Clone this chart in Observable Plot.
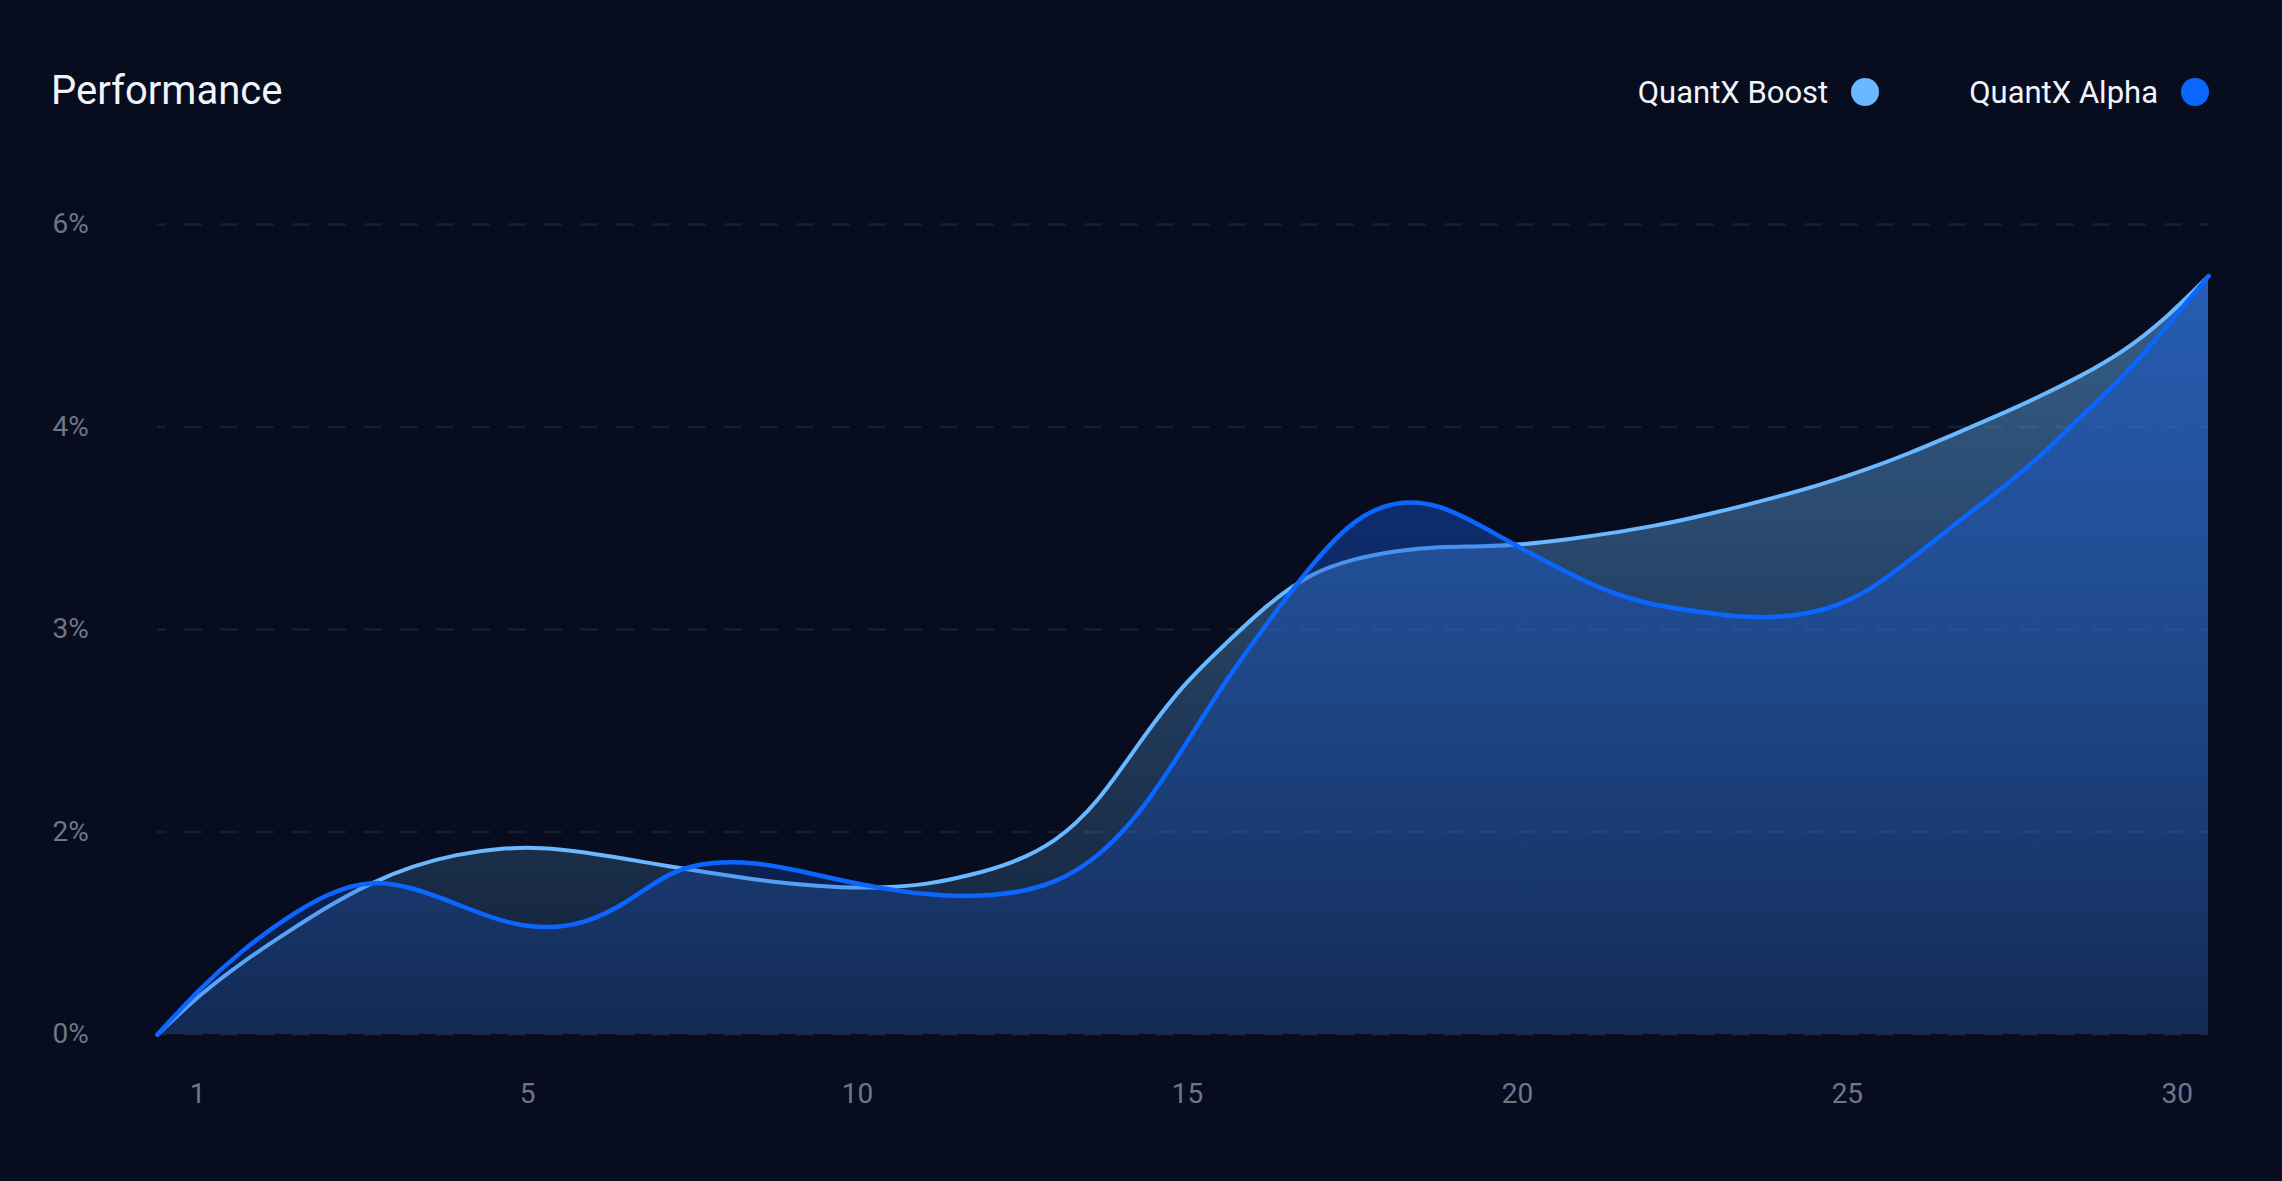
<!DOCTYPE html>
<html>
<head>
<meta charset="utf-8">
<script src="https://cdn.jsdelivr.net/npm/d3@7"></script>
<script src="https://cdn.jsdelivr.net/npm/@observablehq/plot@0.6"></script>
<style>
  html, body { margin: 0; padding: 0; background: #070d1f; }
  body { width: 2282px; height: 1181px; overflow: hidden; font-family: Roboto, sans-serif; }
  #header { position: relative; height: 150px; }
  #title { position: absolute; left: 51px; top: 71px; font-size: 40px; line-height: 40px; color: #f1f4f9; }
  #legend { position: absolute; right: 73px; top: 76px; height: 32px; display: flex; align-items: center; }
  .item { display: flex; align-items: center; font-size: 31px; line-height: 31px; color: #f1f4f9; }
  .item + .item { margin-left: 90px; }
  .dot { width: 28px; height: 28px; border-radius: 50%; margin-left: 23px; }
  #chart svg { display: block; }
</style>
</head>
<body>
<div id="header">
  <div id="title">Performance</div>
  <div id="legend"></div>
</div>
<div id="chart"></div>
<script>
// ---- data (values in %, evenly spaced samples) ----
const seriesNames = ["QuantX Boost", "QuantX Alpha"];
const seriesColors = ["#6ab8ff", "#0a66ff"];
const boost = [0, 0.40, 0.72, 1.00, 1.27, 1.50, 1.67, 1.78, 1.84, 1.85, 1.80, 1.73, 1.66, 1.59, 1.53, 1.48, 1.45,
  1.45, 1.48, 1.57, 1.69, 1.89, 2.14, 2.45, 2.73, 2.93, 3.13, 3.28, 3.35, 3.39, 3.41, 3.41, 3.42,
  3.445, 3.475, 3.51, 3.555, 3.605, 3.66, 3.72, 3.79, 3.87, 3.96, 4.10, 4.29, 4.50, 4.74, 5.07, 5.49];
const alpha = [0, 0.46, 0.84, 1.15, 1.40, 1.53, 1.45, 1.29, 1.12, 1.04, 1.09, 1.30, 1.62, 1.71, 1.70, 1.62, 1.52,
  1.44, 1.38, 1.36, 1.39, 1.49, 1.74, 2.09, 2.41, 2.75, 3.04, 3.32, 3.55, 3.64, 3.62, 3.51, 3.39,
  3.28, 3.18, 3.12, 3.09, 3.06, 3.06, 3.09, 3.18, 3.34, 3.51, 3.67, 3.84, 4.10, 4.49, 4.98, 5.49];
const yTickValues = [0, 2, 3, 4, 6];
const yTickLabels = ["0%", "2%", "3%", "4%", "6%"];
const xTickLabels = ["1", "5", "10", "15", "20", "25", "30"];

// ---- legend ----
const legend = d3.select("#legend");
seriesNames.forEach((name, k) => {
  const item = legend.append("div").attr("class", "item");
  item.append("span").text(name);
  item.append("span").attr("class", "dot").style("background", seriesColors[k]);
});

// ---- derived tables ----
const n = boost.length;
// the axis labels are evenly spaced (0%,2%,3%,4%,6%) -> piecewise mapping to grid steps
const toGrid = d3.scaleLinear().domain(yTickValues).range(d3.range(yTickValues.length));
const rows = boost.map((b, i) => ({i, boost: toGrid(b), alpha: toGrid(alpha[i])}));
const labelPos = d3.scalePoint().domain(xTickLabels).range([0.94, n - 1 - 0.73]);
const xTicks = xTickLabels.map(l => ({x: labelPos(l), label: l}));
const yTicks = yTickValues.map((v, k) => ({y: toGrid(v), label: yTickLabels[k]}));

const curve = "basis";
const chart = Plot.plot({
  width: 2282,
  height: 1031,
  marginLeft: 157,
  marginRight: 74,
  marginTop: 74,
  marginBottom: 147,
  style: {background: "transparent", fontFamily: "Roboto, sans-serif", fontSize: "28px", color: "#6e7688", overflow: "visible"},
  x: {domain: [0, n - 1], axis: null},
  y: {domain: [0, yTickValues.length - 1], axis: null},
  marks: [
    Plot.gridY(yTicks.map(d => d.y), {stroke: "#161f30", strokeOpacity: 1, strokeWidth: 2.5, strokeDasharray: "18,18", strokeDashoffset: 9}),
    Plot.areaY(rows, {x: "i", y: "boost", curve, fill: "url(#gradBoost)"}),
    Plot.lineY(rows, {x: "i", y: "boost", curve, stroke: seriesColors[0], strokeWidth: 4}),
    Plot.areaY(rows, {x: "i", y: "alpha", curve, fill: "url(#gradAlpha)"}),
    Plot.lineY(rows, {x: "i", y: "alpha", curve, stroke: seriesColors[1], strokeWidth: 4.5}),
    Plot.text(yTicks, {y: "y", text: "label", frameAnchor: "left", textAnchor: "start", dx: -105, fill: "#6e7688"}),
    Plot.text(xTicks, {x: "x", text: "label", frameAnchor: "bottom", dy: 68, fill: "#6e7688"})
  ]
});

const defs = d3.select(chart).insert("defs", ":first-child");
function grad(id, color, o0, o1) {
  const g = defs.append("linearGradient").attr("id", id)
    .attr("x1", 0).attr("x2", 0).attr("y1", 0).attr("y2", 1);
  g.append("stop").attr("offset", "0%").attr("stop-color", color).attr("stop-opacity", o0);
  g.append("stop").attr("offset", "100%").attr("stop-color", color).attr("stop-opacity", o1);
}
grad("gradBoost", seriesColors[0], 0.48, 0.10);
grad("gradAlpha", "#1759d6", 0.52, 0.19);

document.getElementById("chart").appendChild(chart);
</script>
</body>
</html>
